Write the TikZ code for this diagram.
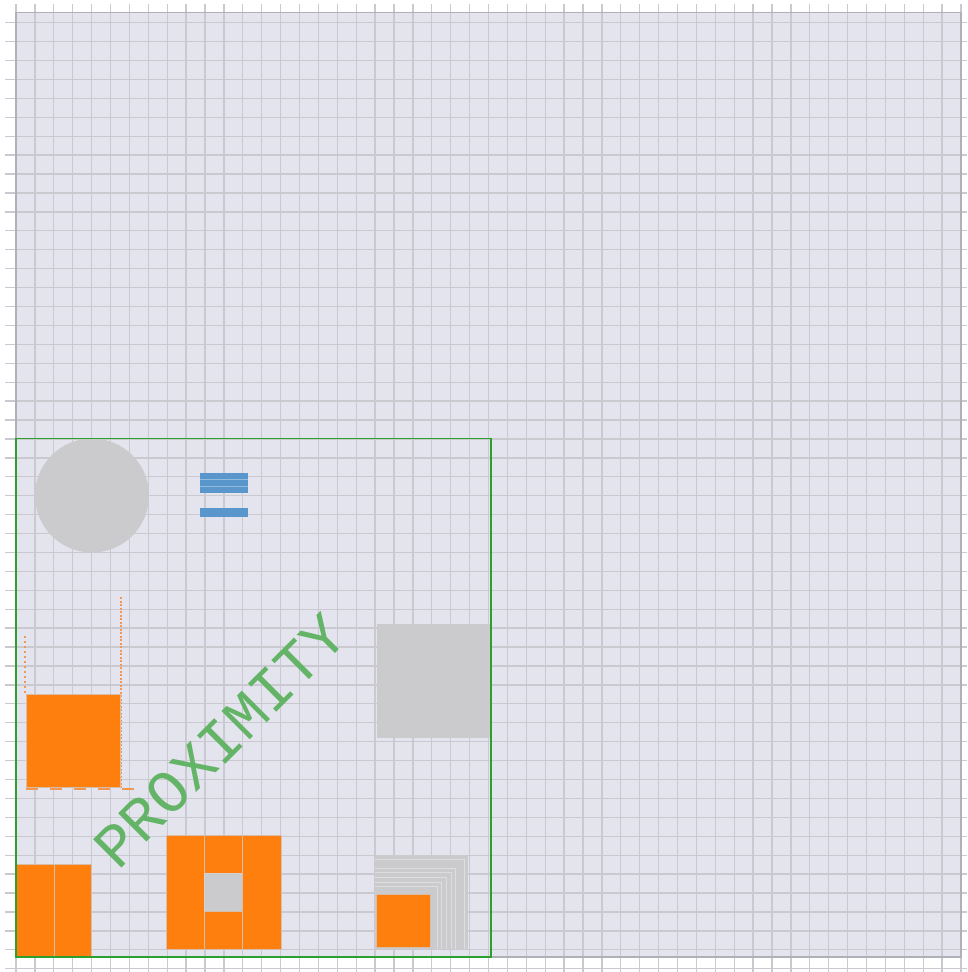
\documentclass[tikz,border=0pt]{standalone}
\usepackage{fontspec}
\usepackage{graphicx}
\usepackage{tikz}
\usetikzlibrary{calc,positioning}
\newfontfamily\proxfont{Liberation Mono}

\definecolor{lav}{RGB}{228,228,238}
\definecolor{gridgray}{RGB}{201,201,207}
\definecolor{edgegray}{RGB}{176,176,182}
\definecolor{tabgreen}{RGB}{44,160,44}
\definecolor{taborange}{RGB}{255,127,14}
\definecolor{paleorange}{RGB}{242,152,82}
\definecolor{blobblue}{RGB}{88,150,204}
\definecolor{fillgray}{RGB}{203,203,205}
\definecolor{rimgray}{RGB}{214,190,170}
\definecolor{linegray}{RGB}{222,222,224}

\begin{document}
\begin{tikzpicture}[x=1mm, y=-1mm,
   gridline/.style={draw=gridgray, line width=1.3mm},
   panel/.style={fill=lav},
   panelrim/.style={draw=edgegray, line width=1.4mm},
   frame/.style={draw=tabgreen, line width=1.3mm},
   orangebox/.style={fill=taborange, draw=rimgray, line width=1mm},
   graybox/.style={fill=fillgray, draw=gray!35, line width=1mm},
   patch/.style={fill=fillgray},
   lline/.style={draw=linegray, line width=0.9mm},
   blob/.style={fill=blobblue},
   ruler/.style={draw=paleorange},
   proxtext/.style={text=tabgreen!70!lav, inner sep=0pt, rotate=45,
      font=\fontsize{173}{173}\selectfont\proxfont}]

   \useasboundingbox (0,0) rectangle (967,972);
   \fill[white] (0,0) rectangle (967,972);

   %plot area and grid
   \fill[panel] (16,12.5) rectangle (961,957);
   \foreach \i in {0,...,50}
      \draw[gridline] ({16+18.9*\i},3.8) -- ({16+18.9*\i},972);
   \foreach \j in {0,...,50}
      \draw[gridline] (5,{22.7+18.92*\j}) -- (967,{22.7+18.92*\j});
   \draw[panelrim] (16,12.5) rectangle (961,957);

   %round patch and label blobs
   \fill[patch] (92,495.5) circle (57);
   \fill[blob] (200,473) rectangle (248,493);
   \fill[blob] (200,508) rectangle (248,517);
   \draw[white!35!blobblue, line width=0.9mm] (200,479.5) -- (248,479.5)
        (200,486.5) -- (248,486.5);

   %square patch
   \fill[patch] (377,624) rectangle (490,738);

   %orange box with rulers
   \draw[ruler, line width=2mm, dash pattern=on 1.5mm off 3.5mm] (24.5,636) -- (24.5,694);
   \draw[ruler, line width=2.4mm, dash pattern=on 2mm off 1.5mm] (121,597) -- (121,788);
   \draw[ruler, line width=2.2mm, dash pattern=on 11.5mm off 12.5mm] (26,789) -- (137,789);
   \filldraw[orangebox] (26,694.3) rectangle (120,787.7);

   %text
   \node[proxtext] (prox) at (220,741) {PROXIMITY};

   %pair of bars
   \filldraw[orangebox] (16,864.3) rectangle (54.3,957);
   \filldraw[orangebox] (54.3,864.3) rectangle (91.7,957);

   %ring of five
   \filldraw[orangebox] (166.7,835.7) rectangle (204.3,949);
   \filldraw[orangebox] (204.3,835.7) rectangle (242.3,873.3);
   \filldraw[graybox] (204.3,873.3) rectangle (242.3,911);
   \filldraw[orangebox] (204.3,911) rectangle (242.3,949);
   \filldraw[orangebox] (242.3,835.7) rectangle (281,949);

   %nested corners
   \fill[patch] (375,855) rectangle (468,949.3);
   \foreach \d in {4,13,17,22,27,31}
      \draw[lline] (375,855+\d) -- (468-\d,855+\d) -- (468-\d,949.3);
   \filldraw[orangebox] (376.7,894) rectangle (430.7,947.7);

   %outline
   \draw[frame] (16,438.3) rectangle (491,957);
\end{tikzpicture}
\end{document}
